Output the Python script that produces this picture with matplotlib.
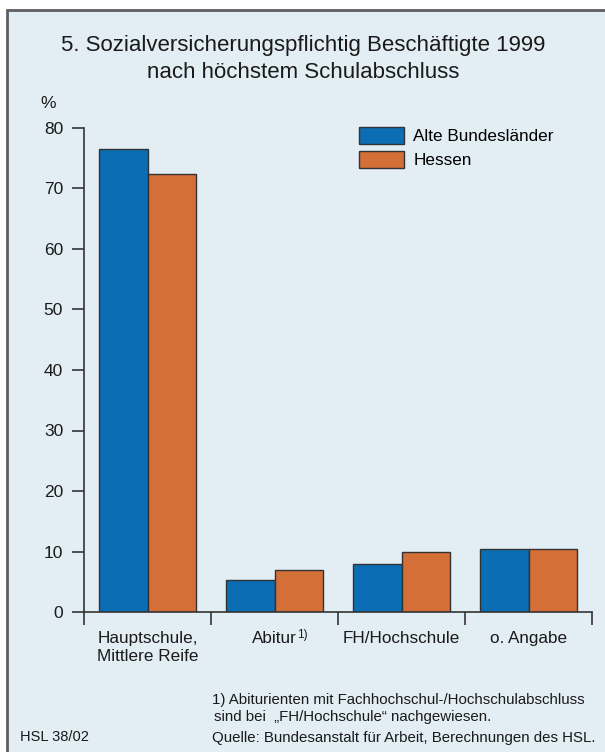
"""
Sozialversicherungspflichtig Beschaeftigte 1999 nach hoechstem Schulabschluss:
grouped bars, Alte Bundeslaender vs. Hessen.
"""

import matplotlib

matplotlib.use("Agg")
import matplotlib.pyplot as plt
import numpy as np
from matplotlib.patches import Rectangle

plt.rcParams["font.family"] = ["Liberation Sans", "DejaVu Sans"]

categories = ["Hauptschule,\nMittlere Reife", "Abitur", "FH/Hochschule", "o. Angabe"]
series_names = ["Alte Bundesländer", "Hessen"]
alte_bl = [76.5, 5.3, 8.0, 10.4]
hessen = [72.4, 7.0, 9.9, 10.4]
yticks = [0, 10, 20, 30, 40, 50, 60, 70, 80]

BG = "#E2EDF4"
BLUE = "#0B6DB3"
ORANGE = "#D46F37"
EDGE = "#333333"
INK = "#1a1a1a"
W, H = 605, 752

fig = plt.figure(figsize=(W / 100, H / 100), dpi=100)
fig.patch.set_facecolor("white")

# framed light-blue panel
fig.add_artist(Rectangle((7 / W, -0.01), 1.0, 1 - 10 / H + 0.01,
                         transform=fig.transFigure, facecolor=BG,
                         edgecolor="#5e5e5e", linewidth=2, zorder=-10))

ax = fig.add_axes([84 / W, 1 - 612 / H, (592 - 84) / W, (612 - 128) / H])
ax.set_facecolor("none")

x = np.arange(len(categories))
bw = 0.378
ax.bar(x - bw / 2, alte_bl, bw, color=BLUE, edgecolor=EDGE, linewidth=1.0,
       label=series_names[0])
ax.bar(x + bw / 2, hessen, bw, color=ORANGE, edgecolor=EDGE, linewidth=1.0,
       label=series_names[1])

ax.set_xlim(-0.5, len(categories) - 0.5)
ax.set_ylim(0, 80)
ax.spines[["top", "right"]].set_visible(False)
for s in ("left", "bottom"):
    ax.spines[s].set_color("#333333")
    ax.spines[s].set_linewidth(1.2)

ax.set_yticks(yticks)
ax.tick_params(axis="y", length=9, width=1.2, color="#333333", pad=6,
               labelsize=12.5, labelcolor=INK)

ax.set_xticks(np.arange(len(categories) + 1) - 0.5)
ax.set_xticklabels([])
ax.tick_params(axis="x", which="major", length=9, width=1.2, color="#333333")
ax.set_xticks(x, minor=True)
ax.set_xticklabels(categories, minor=True, fontsize=12.3, color=INK,
                   linespacing=1.2)
ax.tick_params(axis="x", which="minor", length=0, pad=14)

# footnote marker on "Abitur"
ax.annotate("1)", xy=(1, 0), xycoords=("data", "axes fraction"),
            xytext=(16, -12), textcoords="offset points",
            ha="left", va="top", fontsize=8.5, color=INK)

fig.text(303 / W, 1 - 46 / H, "5. Sozialversicherungspflichtig Beschäftigte 1999",
         ha="center", va="center", fontsize=16.0, color=INK)
fig.text(303 / W, 1 - 72 / H, "nach höchstem Schulabschluss",
         ha="center", va="center", fontsize=16.0, color=INK)
fig.text(40 / W, 1 - 103 / H, "%", ha="left", va="center", fontsize=12.5,
         color=INK)

ax.legend(loc="upper left", bbox_to_anchor=(356 / W, 1 - 124 / H),
          bbox_transform=fig.transFigure, frameon=False, fontsize=12.3,
          handlelength=2.6, handleheight=1.1, labelspacing=0.4,
          handletextpad=0.55, borderaxespad=0, borderpad=0.2)

fig.text(212 / W, 1 - 700 / H,
         "1) Abiturienten mit Fachhochschul-/Hochschulabschluss",
         ha="left", va="center", fontsize=10.8, color=INK)
fig.text(214 / W, 1 - 717 / H, "sind bei  „FH/Hochschule“ nachgewiesen.",
         ha="left", va="center", fontsize=10.8, color=INK)
fig.text(212 / W, 1 - 738 / H,
         "Quelle: Bundesanstalt für Arbeit, Berechnungen des HSL.",
         ha="left", va="center", fontsize=10.8, color=INK)
fig.text(20 / W, 1 - 737 / H, "HSL 38/02", ha="left", va="center",
         fontsize=10.5, color=INK)

fig.savefig("out.png", dpi=100, facecolor=fig.get_facecolor())
